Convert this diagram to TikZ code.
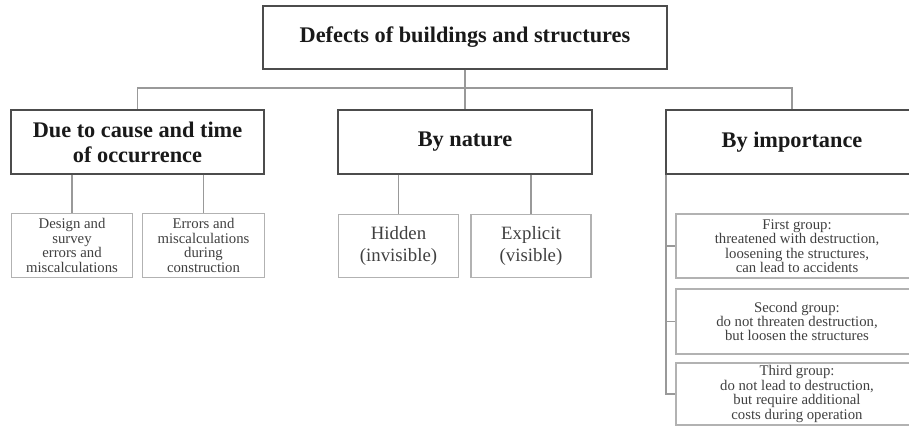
\documentclass[tikz,border=0pt]{standalone}
\usepackage{fontspec}
\setmainfont{Liberation Serif}
\usepackage{tikz}
\usetikzlibrary{arrows,shapes}
\tikzstyle{head box}=[rectangle, draw=black!70
,line width=1.1pt
,align=center
,inner sep=0pt
,minimum height=1.27cm
,text=black!90
,font=\bfseries\fontsize{12.7}{14.2}\selectfont
]
\tikzstyle{leaf box}=[rectangle, draw=black!30
,line width=0.8pt
,align=center
,inner sep=0pt
,minimum height=1.27cm
,text=black!75
,font=\fontsize{8.4}{8.2}\selectfont
]
\tikzstyle{big leaf box} = [leaf box, font=\fontsize{10.7}{12}\selectfont]
\tikzstyle{edge} = [draw,black!40,line width=0.9pt,-]

\begin{document}
\begin{tikzpicture}[x=0.02cm,y=-0.02cm]
    \useasboundingbox (0,0) rectangle (909,427);
    % The root and the three ways of grouping
    \node[head box, minimum width=8.08cm, minimum height=1.26cm] (top) at (465,37.5) {Defects of buildings and structures};
    \node[head box, minimum width=5.06cm] (cause) at (137.5,142) {Due to cause and time\\of occurrence};
    \node[head box, minimum width=5.08cm] (nature) at (465,142) {By nature};
    \node[head box, minimum width=5.04cm] (importance) at (792,142) {By importance};

    % Then the leaves
    \foreach \pos/\name/\txt in {{(72,245.5)/design/{Design and\\survey\\errors and\\miscalculations}},
                                 {(203.5,245.5)/errors/{Errors and\\miscalculations\\during\\construction}}}
        \node[leaf box, minimum width=2.43cm] (\name) at \pos {\txt};

    \foreach \pos/\name/\txt in {{(398.5,246)/hidden/{Hidden\\(invisible)}}, {(531,246)/explicit/{Explicit\\(visible)}}}
        \node[big leaf box, minimum width=2.4cm] (\name) at \pos {\txt};

    \foreach \pos/\name/\h/\txt in {{(797,246)/first/1.28cm/{First group:\\threatened with destruction,\\loosening the structures,\\can lead to accidents}},
                                    {(797,321.5)/second/1.3cm/{Second group:\\do not threaten destruction,\\but loosen the structures}},
                                    {(797,394)/third/1.24cm/{Third group:\\do not lead to destruction,\\but require additional\\costs during operation}}}
        \node[leaf box, minimum width=4.84cm, minimum height=\h] (\name) at \pos {\txt};

    % Connect the boxes
    \coordinate (bus) at (465,88);
    \foreach \dest in {cause, nature, importance}
        \path[edge] (top.south) |- (bus) -| (\dest.north);
    \foreach \source/\dest in {cause/design, cause/errors, nature/hidden, nature/explicit}
        \path[edge] (\source.south -| \dest.north) -- (\dest.north);
    \foreach \dest in {first, second, third}
        \path[edge] ([xshift=0.02cm]importance.south west) |- (\dest.west);
\end{tikzpicture}
\end{document}
